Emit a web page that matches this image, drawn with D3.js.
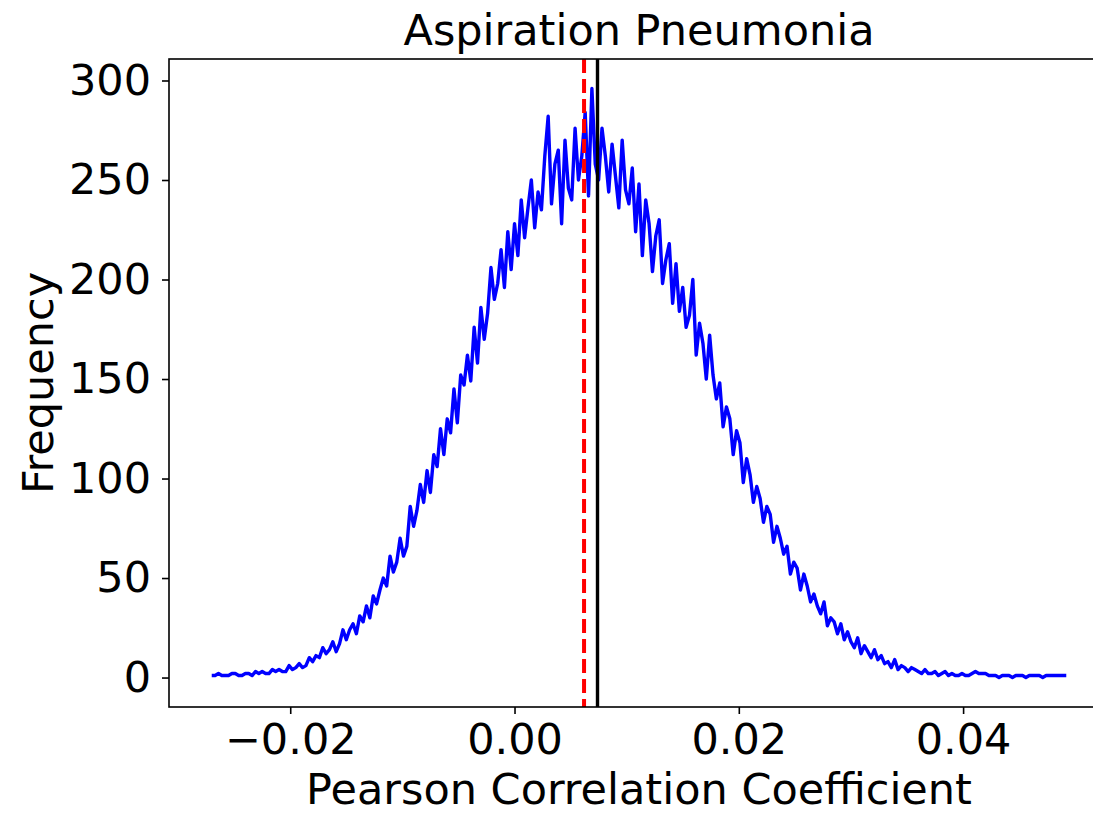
<!DOCTYPE html>
<html>
<head>
<meta charset="utf-8">
<script src="https://cdn.jsdelivr.net/npm/d3@7"></script>
<style>
  body { margin: 0; background: #fff; }
  svg { display: block; }
  text { font-family: "DejaVu Sans", sans-serif; }
</style>
</head>
<body>
<div class="chart-wrapper"></div>
<script>
// histogram of correlation coefficients, bins
const xStart = -0.0270;
const binStep = 0.0003;
const freq = [
  1, 1, 2, 1, 1, 1, 2, 2, 1, 1,
  2, 2, 1, 3, 2, 3, 2, 2, 4, 3,
  4, 3, 3, 6, 4, 5, 7, 5, 6, 10,
  8, 11, 10, 15, 12, 14, 18, 13, 17, 24,
  19, 24, 27, 22, 31, 28, 36, 30, 41, 37,
  44, 50, 46, 61, 53, 58, 70, 61, 66, 86,
  76, 84, 97, 88, 104, 93, 112, 106, 125, 112,
  130, 123, 145, 128, 152, 147, 162, 149, 176, 158,
  186, 170, 183, 206, 190, 198, 215, 196, 224, 205,
  228, 212, 240, 221, 236, 250, 226, 244, 235, 262,
  282, 238, 258, 265, 228, 270, 246, 240, 276, 250,
  262, 284, 242, 296, 258, 250, 276, 262, 244, 268,
  252, 236, 270, 245, 238, 256, 224, 248, 212, 240,
  228, 204, 222, 230, 198, 210, 218, 188, 208, 184,
  196, 176, 182, 200, 162, 178, 168, 150, 172, 152,
  140, 148, 126, 136, 130, 112, 124, 118, 98, 110,
  102, 88, 96, 90, 78, 86, 82, 68, 76, 70,
  62, 66, 52, 58, 55, 44, 52, 46, 38, 42,
  36, 32, 38, 26, 30, 28, 22, 27, 19, 23,
  18, 15, 20, 12, 16, 13, 10, 14, 9, 11,
  7, 8, 5, 9, 4, 6, 5, 3, 5, 4,
  3, 2, 4, 2, 2, 3, 1, 2, 3, 1,
  2, 1, 1, 2, 1, 1, 2, 3, 2, 2,
  2, 1, 1, 1, 0, 1, 1, 1, 0, 1,
  1, 1, 0, 1, 1, 1, 1, 0, 1, 1,
  1, 1, 1, 1, 1
];

const redLineX = 0.0062;   // dashed red
const blackLineX = 0.0074; // solid black

const xTicks = [-0.02, 0.00, 0.02, 0.04];
const yTicks = [0, 50, 100, 150, 200, 250, 300];

const titleText = "Aspiration Pneumonia";
const xLabelText = "Pearson Correlation Coefficient";
const yLabelText = "Frequency";

const width = 1093;
const height = 816;
const margin = { top: 59, right: -16, bottom: 109, left: 169 };
const fontSize = 43;

const binX = freq.map((d, i) => xStart + i * binStep);

// matplotlib style 5% padding around the data
const xExt = d3.extent(binX);
const xPad = (xExt[1] - xExt[0]) * 0.05;
const yExt = d3.extent(freq);
const yPad = (yExt[1] - yExt[0]) * 0.05;

const x = d3.scaleLinear()
  .domain([xExt[0] - xPad, xExt[1] + xPad])
  .range([margin.left, width - margin.right]);

const y = d3.scaleLinear()
  .domain([yExt[0] - yPad, yExt[1] + yPad])
  .range([height - margin.bottom, margin.top]);

const svg = d3.select(".chart-wrapper").append("svg")
  .attr("width", width)
  .attr("height", height);

const plotW = width - margin.right - margin.left;
const plotH = height - margin.bottom - margin.top;

svg.append("clipPath").attr("id", "plot-clip")
  .append("rect")
  .attr("x", margin.left).attr("y", margin.top)
  .attr("width", plotW).attr("height", plotH);

const line = d3.line()
  .x((d, i) => x(binX[i]))
  .y(d => y(d));

svg.append("path")
  .datum(freq)
  .attr("clip-path", "url(#plot-clip)")
  .attr("fill", "none")
  .attr("stroke", "#0000ff")
  .attr("stroke-width", 3.4)
  .attr("stroke-linejoin", "round")
  .attr("d", line);

svg.append("line")
  .attr("x1", x(redLineX)).attr("x2", x(redLineX))
  .attr("y1", margin.top).attr("y2", height - margin.bottom)
  .attr("stroke", "#ff0000")
  .attr("stroke-width", 4)
  .attr("stroke-dasharray", "14,6");

svg.append("line")
  .attr("x1", x(blackLineX)).attr("x2", x(blackLineX))
  .attr("y1", margin.top).attr("y2", height - margin.bottom)
  .attr("stroke", "#000")
  .attr("stroke-width", 3.4);

// frame
svg.append("rect")
  .attr("x", margin.left).attr("y", margin.top)
  .attr("width", plotW).attr("height", plotH)
  .attr("fill", "none")
  .attr("stroke", "#000")
  .attr("stroke-width", 1.6);

const xAxis = svg.append("g")
  .attr("transform", `translate(0,${height - margin.bottom})`)
  .call(d3.axisBottom(x).tickValues(xTicks).tickFormat(d3.format(".2f")).tickSize(7).tickPadding(9));

const yAxis = svg.append("g")
  .attr("transform", `translate(${margin.left},0)`)
  .call(d3.axisLeft(y).tickValues(yTicks).tickFormat(d3.format("d")).tickSize(7).tickPadding(11));

[xAxis, yAxis].forEach(g => {
  g.select(".domain").remove();
  g.selectAll(".tick line").attr("stroke", "#000").attr("stroke-width", 1.6);
  g.selectAll(".tick text")
    .attr("fill", "#000")
    .style("font-size", fontSize + "px")
    .style("font-family", "'DejaVu Sans', sans-serif");
});

svg.append("text")
  .attr("x", margin.left + plotW / 2)
  .attr("y", 45)
  .attr("text-anchor", "middle")
  .style("font-size", fontSize + "px")
  .text(titleText);

svg.append("text")
  .attr("x", margin.left + plotW / 2)
  .attr("y", 804)
  .attr("text-anchor", "middle")
  .style("font-size", fontSize + "px")
  .text(xLabelText);

svg.append("text")
  .attr("transform", `translate(53,${margin.top + plotH / 2}) rotate(-90)`)
  .attr("text-anchor", "middle")
  .style("font-size", fontSize + "px")
  .text(yLabelText);
</script>
</body>
</html>
